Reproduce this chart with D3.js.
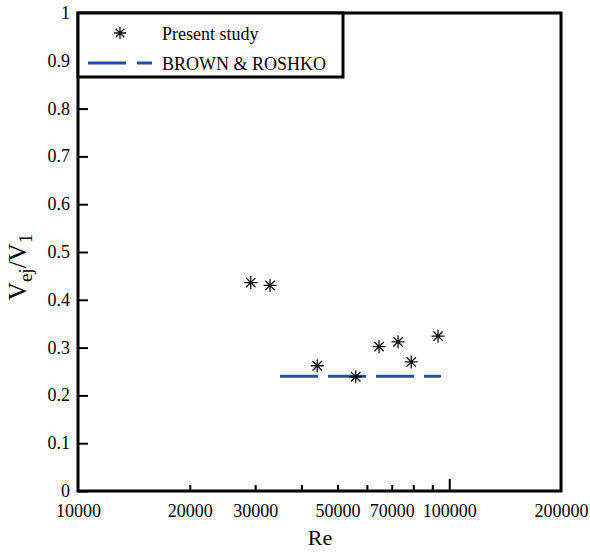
<!DOCTYPE html>
<html><head><meta charset="utf-8">
<script src="https://cdn.jsdelivr.net/npm/d3@7"></script>
<style>body{margin:0;background:#fff}</style>
</head><body><svg id="c" width="590" height="552" font-family="'Liberation Serif', 'Times New Roman', serif"></svg>
<script>
const reValues = [29200, 32900, 44100, 56000, 64700, 72800, 79000, 93300];
const velRatio = [0.436, 0.430, 0.262, 0.239, 0.302, 0.312, 0.270, 0.324];
const brownRe = [35000, 95000];
const brownVal = [0.24, 0.24];
const xTickLabels = [10000, 20000, 30000, 50000, 70000, 100000, 200000];
const xMinorTicks = [20000, 30000, 40000, 50000, 60000, 70000, 80000, 90000];
const yTicks = [0, 0.1, 0.2, 0.3, 0.4, 0.5, 0.6, 0.7, 0.8, 0.9, 1];

const FF = "'Liberation Serif', 'Times New Roman', serif";
const L = 78, R = 561, T = 13, B = 491;
const svg = d3.select("#c");
const x = d3.scaleLog().domain([10000, 200000]).range([L, R]);
const y = d3.scaleLinear().domain([0, 1]).range([B, T]);

function clean(g) { g.attr("font-family", FF); g.select(".domain").remove(); }

// y ticks
const ya = svg.append("g").attr("transform", `translate(${L},0)`)
  .call(d3.axisLeft(y).tickValues(yTicks).tickSize(-10).tickPadding(8).tickFormat(d => d3.format("~g")(d)));
clean(ya);
ya.selectAll("line").attr("stroke", "#000").attr("stroke-width", 2);
ya.selectAll("text").attr("font-size", 18).attr("fill", "#000").attr("dy", "0.3em");

// x minor ticks
const xm = svg.append("g").attr("transform", `translate(0,${B})`)
  .call(d3.axisBottom(x).tickValues(xMinorTicks).tickSize(-6).tickFormat(""));
clean(xm);
xm.selectAll("line").attr("stroke", "#000").attr("stroke-width", 2);
const xM = svg.append("g").attr("transform", `translate(0,${B})`)
  .call(d3.axisBottom(x).tickValues([100000]).tickSize(-12).tickFormat(""));
clean(xM);
xM.selectAll("line").attr("stroke", "#000").attr("stroke-width", 2);
const xl = svg.append("g").attr("transform", `translate(0,${B})`)
  .call(d3.axisBottom(x).tickValues(xTickLabels).tickSize(0).tickPadding(13).tickFormat(d => String(d)));
clean(xl);
xl.selectAll("text").attr("font-size", 18).attr("fill", "#000").attr("dy", "0.71em");

// frame
svg.append("rect").attr("x", L).attr("y", T).attr("width", R - L).attr("height", B - T)
  .attr("fill", "none").attr("stroke", "#000").attr("stroke-width", 3);

// Brown & Roshko dashed line
svg.append("path").datum(brownRe.map((r, i) => [r, brownVal[i]]))
  .attr("d", d3.line().x(d => x(d[0])).y(d => y(d[1])))
  .attr("stroke", "#2451a4").attr("stroke-width", 3).attr("fill", "none")
  .attr("stroke-dasharray", "38,10");

// asterisk markers
function star(g, cx, cy, s) {
  const a = s / 2, b = a * 0.72;
  g.append("path").attr("d",
    `M${cx - a},${cy}H${cx + a}M${cx},${cy - a}V${cy + a}M${cx - b},${cy - b}L${cx + b},${cy + b}M${cx - b},${cy + b}L${cx + b},${cy - b}`)
    .attr("stroke", "#111").attr("stroke-width", 1.3).attr("fill", "none");
}
const pts = svg.append("g");
reValues.forEach((r, i) => star(pts, x(r), y(velRatio[i]), 13));

// legend
svg.append("rect").attr("x", L).attr("y", T).attr("width", 343 - L).attr("height", 77 - T)
  .attr("fill", "#fff").attr("stroke", "#000").attr("stroke-width", 3);
star(svg, 120, 33, 12);
svg.append("text").attr("x", 162).attr("y", 40).attr("font-size", 18).text("Present study");
svg.append("line").attr("x1", 88).attr("x2", 126).attr("y1", 63).attr("y2", 63).attr("stroke", "#2451a4").attr("stroke-width", 3);
svg.append("line").attr("x1", 137).attr("x2", 152).attr("y1", 63).attr("y2", 63).attr("stroke", "#2451a4").attr("stroke-width", 3);
svg.append("text").attr("x", 162).attr("y", 70).attr("font-size", 18).text("BROWN & ROSHKO");

// axis titles
svg.append("text").attr("x", 320).attr("y", 545).attr("text-anchor", "middle").attr("font-size", 22).text("Re");
const yt = svg.append("text").attr("transform", `translate(26,267) rotate(-90)`).attr("text-anchor", "middle").attr("font-size", 25);
yt.append("tspan").text("V");
yt.append("tspan").attr("font-size", 19).attr("dy", 6).text("ej");
yt.append("tspan").attr("dy", -6).text("/V");
yt.append("tspan").attr("font-size", 19).attr("dy", 6).text("1");
</script></body></html>
